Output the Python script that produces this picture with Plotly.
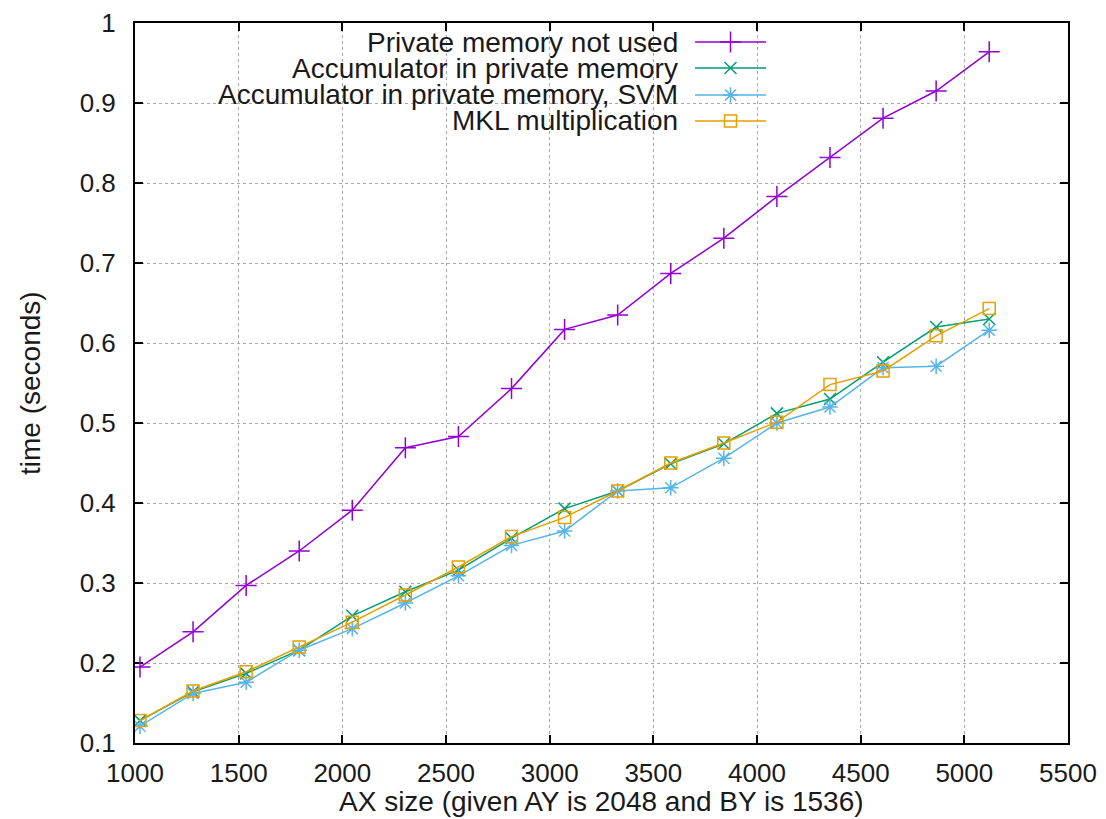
import plotly.graph_objects as go

# ---- data ----
ax_size = [1024, 1280, 1536, 1792, 2048, 2304, 2560, 2816, 3072,
           3328, 3584, 3840, 4096, 4352, 4608, 4864, 5120]
private_not_used = [0.195, 0.239, 0.297, 0.340, 0.391, 0.469, 0.483, 0.543, 0.617,
                    0.635, 0.687, 0.731, 0.783, 0.832, 0.881, 0.915, 0.964]
acc_private = [0.128, 0.164, 0.187, 0.216, 0.259, 0.289, 0.316, 0.356, 0.393,
               0.415, 0.449, 0.474, 0.512, 0.530, 0.576, 0.620, 0.630]
acc_private_svm = [0.121, 0.162, 0.176, 0.216, 0.243, 0.275, 0.309, 0.347, 0.365,
                   0.415, 0.419, 0.456, 0.500, 0.520, 0.569, 0.571, 0.616]
mkl = [0.128, 0.165, 0.189, 0.220, 0.251, 0.285, 0.320, 0.358, 0.382,
       0.415, 0.450, 0.475, 0.501, 0.548, 0.565, 0.609, 0.643]

series_names = ["Private memory not used", "Accumulator in private memory",
                "Accumulator in private memory, SVM", "MKL multiplication"]
series_values = [private_not_used, acc_private, acc_private_svm, mkl]
colors = ["#9400D3", "#009E73", "#56B4E9", "#E69F00"]
symbols = ["cross-thin-open", "x-thin-open", "asterisk-open", "square-open"]
msizes = [15, 12, 13, 12]

x_ticks = [1000, 1500, 2000, 2500, 3000, 3500, 4000, 4500, 5000, 5500]
y_ticks = [0.1, 0.2, 0.3, 0.4, 0.5, 0.6, 0.7, 0.8, 0.9, 1.0]
y_ticktext = ["0.1", "0.2", "0.3", "0.4", "0.5", "0.6", "0.7", "0.8", "0.9", "1"]

x_title = "AX size (given AY is 2048 and BY is 1536)"
y_title = "time (seconds)"

FONT = "Liberation Sans, Arial, sans-serif"
TXT = "#1a1a1a"
# figure fills the page (body margin removed below); plot-area box in page pixels
FIG_W, FIG_H = 1106, 819
L, R, T, B = 135, 1068, 23, 743
X0, X1 = 1000, 5500
Y0, Y1 = 0.1, 1.0


def px2x(px):
    return X0 + (px - L) / (R - L) * (X1 - X0)


def px2y(py):
    return Y0 + (B - py) / (B - T) * (Y1 - Y0)


def px2paper_x(px):
    return (px - L) / (R - L)


def px2paper_y(py):
    return (B - py) / (B - T)


fig = go.Figure()

# white box behind the key (hides the grid there)
fig.add_shape(type="rect", xref="x", yref="y",
              x0=px2x(150), x1=px2x(785), y0=px2y(138), y1=px2y(T + 1),
              fillcolor="white", line=dict(width=0), layer="below")

for name, vals, c, s, ms in zip(series_names, series_values, colors, symbols, msizes):
    fig.add_trace(go.Scatter(
        x=ax_size, y=vals, mode="lines+markers", name=name, showlegend=False,
        line=dict(color=c, width=1.5),
        marker=dict(symbol=s, size=ms, color=c, line=dict(color=c, width=1.5)),
    ))

# ---- gnuplot-style key (right-aligned text, sample to the right) ----
row_y = [42, 68, 95, 121]
text_right = 680
samp_x0, samp_x1 = 695, 766
for i, (name, c, s, ms) in enumerate(zip(series_names, colors, symbols, msizes)):
    yy = row_y[i]
    fig.add_trace(go.Scatter(
        x=[samp_x0, samp_x1], y=[yy, yy], mode="lines", xaxis="x2", yaxis="y2",
        line=dict(color=c, width=1.5), showlegend=False, hoverinfo="skip"))
    fig.add_trace(go.Scatter(
        x=[(samp_x0 + samp_x1) / 2], y=[yy], mode="markers", xaxis="x2", yaxis="y2",
        marker=dict(symbol=s, size=ms, color=c, line=dict(color=c, width=1.5)),
        showlegend=False, hoverinfo="skip"))
    fig.add_annotation(x=px2paper_x(text_right), y=px2paper_y(yy),
                       xref="paper", yref="paper", text=name,
                       showarrow=False, xanchor="right", yanchor="middle",
                       font=dict(family=FONT, size=28, color=TXT))

# axis titles (placed like gnuplot)
fig.add_annotation(x=0.5, y=px2paper_y(801), xref="paper", yref="paper", text=x_title,
                   showarrow=False, xanchor="center", yanchor="middle",
                   font=dict(family=FONT, size=28, color=TXT))
fig.add_annotation(x=px2paper_x(30), y=0.5, xref="paper", yref="paper", text=y_title,
                   showarrow=False, xanchor="center", yanchor="middle", textangle=-90,
                   font=dict(family=FONT, size=28, color=TXT))

axis_common = dict(
    showline=True, linecolor="black", linewidth=2, mirror="ticks",
    ticks="inside", ticklen=8, tickwidth=1.5, tickcolor="black",
    showgrid=True, gridcolor="#a8a8a8", griddash="dot", gridwidth=1,
    zeroline=False, layer="below traces", automargin=False,
    tickfont=dict(family=FONT, size=26, color=TXT),
)

fig.update_layout(
    width=FIG_W, height=FIG_H,
    margin=dict(l=L, r=FIG_W - R, t=T, b=FIG_H - B),
    paper_bgcolor="white", plot_bgcolor="white",
    xaxis=dict(range=[X0, X1], tickvals=x_ticks, ticktext=[str(v) for v in x_ticks],
               ticklabelstandoff=6, **axis_common),
    yaxis=dict(range=[Y0, Y1], tickvals=y_ticks, ticktext=y_ticktext,
               ticklabelstandoff=12, **axis_common),
    xaxis2=dict(range=[L, R], overlaying="x", visible=False, fixedrange=True),
    yaxis2=dict(range=[B, T], overlaying="y", visible=False, fixedrange=True),
)

fig.write_html(
    "out.html",
    config={"displayModeBar": False},
    post_script="document.body.style.margin='0';document.body.style.overflow='hidden';",
)
